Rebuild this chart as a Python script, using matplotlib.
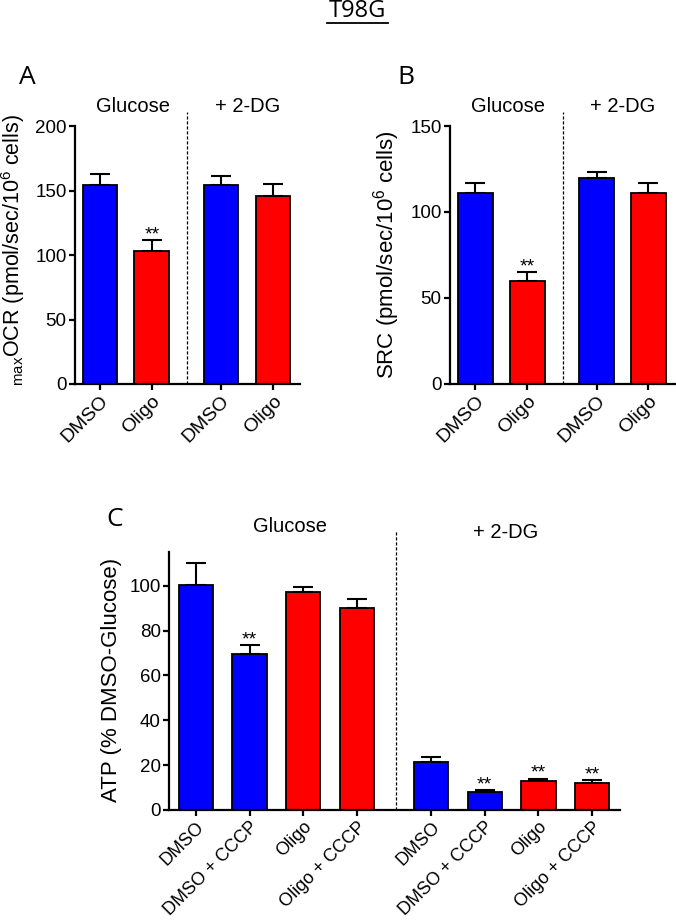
import numpy as np
import matplotlib.pyplot as plt
from matplotlib.lines import Line2D
from matplotlib import transforms

plt.rcParams['font.family'] = ['Liberation Sans', 'DejaVu Sans']
plt.rcParams['mathtext.default'] = 'regular'

BLUE = '#0000ff'
RED = '#ff0000'

# A - max OCR
ocr_labels = ['DMSO', 'Oligo', 'DMSO', 'Oligo']
ocr_mean = [154.3, 103.1, 154.3, 146.0]
ocr_sem = [8.5, 8.3, 6.7, 9.0]
ocr_stars = ['', '**', '', '']

# B - spare respiratory capacity
src_labels = ['DMSO', 'Oligo', 'DMSO', 'Oligo']
src_mean = [111.2, 59.9, 119.6, 111.2]
src_sem = [5.7, 5.0, 3.8, 5.7]
src_stars = ['', '**', '', '']

# C - ATP
atp_labels = ['DMSO', 'DMSO + CCCP', 'Oligo', 'Oligo + CCCP',
              'DMSO', 'DMSO + CCCP', 'Oligo', 'Oligo + CCCP']
atp_mean = [100.3, 69.4, 97.2, 90.0, 21.3, 8.2, 12.9, 12.2]
atp_sem = [9.9, 4.2, 2.0, 4.0, 2.2, 0.5, 1.1, 1.0]
atp_stars = ['', '**', '', '', '', '**', '**', '**']

ab_colors = [BLUE, RED, BLUE, RED]
atp_colors = [BLUE, BLUE, RED, RED, BLUE, BLUE, RED, RED]
groups = ['Glucose', '+ 2-DG']


def group_pos(n_per_group, gap):
    pos = list(np.arange(n_per_group, dtype=float))
    pos += list(np.arange(n_per_group) + n_per_group - 1 + gap)
    return np.array(pos)


def bar_panel(ax, pos, mean, sem, colors, stars, labels, width, ylim, yticks,
              xlim, divider, div_top, xfont=14):
    ax.bar(pos, mean, width=width, color=colors, edgecolor='k', linewidth=1.3, zorder=2)
    ax.errorbar(pos, mean, yerr=[np.zeros(len(sem)), sem], fmt='none', ecolor='k',
                elinewidth=1.5, capsize=7.5, capthick=1.5, zorder=3)
    for p, m, e, s in zip(pos, mean, sem, stars):
        if s:
            ax.annotate(s, (p, m + e), xytext=(0, 0.5), textcoords='offset points',
                        ha='center', va='baseline', fontsize=14)
    ax.set_xlim(*xlim)
    ax.set_ylim(*ylim)
    ax.set_yticks(yticks)
    ax.set_xticks(pos)
    ax.set_xticklabels(labels, rotation=45, ha='right', va='top',
                       rotation_mode='anchor', fontsize=xfont)
    for t in ax.get_yticklabels():
        t.set_fontsize(13.5)
    for side in ['top', 'right']:
        ax.spines[side].set_visible(False)
    for side in ['left', 'bottom']:
        ax.spines[side].set_linewidth(1.6)
    ax.tick_params(axis='both', direction='out', length=4.5, width=1.6, pad=1.5)
    ax.axvline(divider, ymin=0, ymax=div_top, color='k', lw=0.9,
               linestyle=(0, (2.5, 1.5)), clip_on=False, zorder=1)


fig = plt.figure(figsize=(6.76, 9.24), dpi=100)

ab_pos = group_pos(2, 1.33)
atp_pos = group_pos(4, 1.38)

# panel A
axA = fig.add_axes([75 / 676, 1 - 384 / 924, 225 / 676, 258 / 924])
bar_panel(axA, ab_pos, ocr_mean, ocr_sem, ab_colors, ocr_stars, ocr_labels, 0.67,
          (0, 200), [0, 50, 100, 150, 200], (-0.48, 3.85), 1.67, 1.054)
axA.set_ylabel('$_{max}$OCR (pmol/sec/10$^6$ cells)', fontsize=15.5)
axA.yaxis.set_label_coords(-0.213, 0.52)

# panel B
axB = fig.add_axes([450 / 676, 1 - 384 / 924, 226 / 676, 258 / 924])
bar_panel(axB, ab_pos, src_mean, src_sem, ab_colors, src_stars, src_labels, 0.67,
          (0, 150), [0, 50, 100, 150], (-0.49, 3.86), 1.68, 1.054)
axB.set_ylabel('SRC (pmol/sec/10$^6$ cells)', fontsize=16)
axB.yaxis.set_label_coords(-0.212, 0.50)

# panel C
axC = fig.add_axes([169 / 676, 1 - 810 / 924, 451 / 676, 258 / 924])
bar_panel(axC, atp_pos, atp_mean, atp_sem, atp_colors, atp_stars, atp_labels, 0.64,
          (0, 115), [0, 20, 40, 60, 80, 100], (-0.5, 7.9), 3.72, 1.081, xfont=13)
axC.set_ylabel('ATP (% DMSO-Glucose)', fontsize=16)
axC.yaxis.set_label_coords(-0.104, 0.504)

# group headers
for ax, xs, ys in [(axA, [0.63, 2.85], [1.074, 1.074]),
                   (axB, [0.63, 2.84], [1.074, 1.074]),
                   (axC, [1.75, 5.77], [1.097, 1.074])]:
    trans = transforms.blended_transform_factory(ax.transData, ax.transAxes)
    for g, x, y in zip(groups, xs, ys):
        ax.text(x, y, g, transform=trans, ha='center', va='center', fontsize=14.5)

# panel letters and title
letter_font = ['Open Sans', 'DejaVu Sans']
for letter, x, y in [('A', 27, 77), ('B', 406, 77), ('C', 115, 520)]:
    fig.text(x / 676, 1 - y / 924, letter, ha='center', va='center',
             fontsize=19, family=letter_font)
fig.text(357 / 676, 1 - 11 / 924, 'T98G', ha='center', va='center',
         fontsize=17, family=letter_font)
fig.add_artist(Line2D([327 / 676, 388 / 676], [1 - 23 / 924, 1 - 23 / 924],
                      transform=fig.transFigure, color='k', lw=1.3))

fig.savefig('out.png', dpi=100)
